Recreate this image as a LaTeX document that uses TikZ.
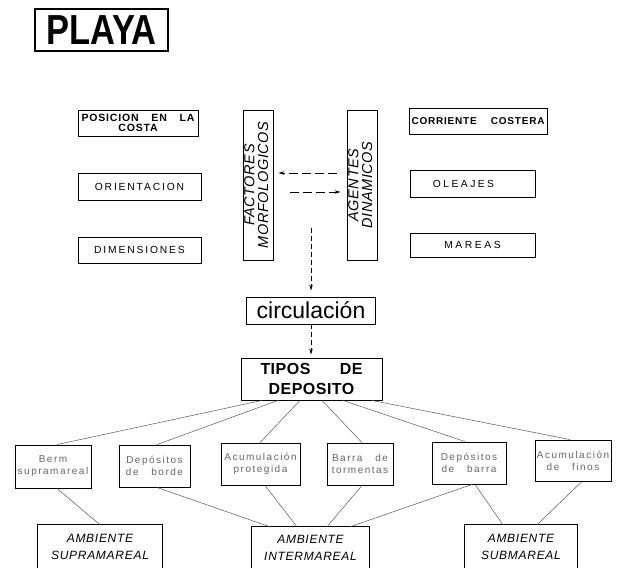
\documentclass[tikz,border=0pt]{standalone}
\usepackage{fontspec}
\setmainfont{Liberation Sans}
\usepackage{graphicx}
\usetikzlibrary{arrows.meta}
\newcommand{\lsp}[1]{\addfontfeature{LetterSpace=#1}}
\begin{document}
\begin{tikzpicture}[x=1pt,y=-1pt,
  box/.style={draw, line width=0.9pt, inner sep=1pt, align=center},
  obox/.style={inner sep=1pt, align=center},
  link/.style={line width=0.5pt, black!65},
  frame/.style={line width=0.9pt},
  darrow/.style={line width=0.7pt, dash pattern=on 9pt off 4pt, -{Stealth[length=6pt,width=3.5pt]}},
  caps/.style={font=\fontsize{10.3}{12}\selectfont\lsp{18}},
  small/.style={font=\fontsize{10}{12}\selectfont\lsp{15}, text=black!60},
  amb/.style={font=\fontsize{12}{17}\selectfont\itshape\lsp{6}},
]
\useasboundingbox[fill=white] (0,0) rectangle (618,568);

% title
\node[box, line width=1.3pt, minimum width=133, minimum height=42, inner sep=0] (playa) at (101.5,30)
  {\scalebox{0.82}[1]{\fontsize{42}{42}\selectfont\bfseries PLAYA}};

% left column
\node[box, minimum width=120, minimum height=26, font=\fontsize{10.5}{9.5}\selectfont\bfseries\lsp{8}] (pos) at (138,123)
  {\makebox[113pt]{POSICION\hfill EN\hfill LA}\\COSTA};
\node[box, caps, minimum width=123, minimum height=27] (ori) at (139.5,186.5) {ORIENTACION};
\node[box, caps, minimum width=123, minimum height=26] (dim) at (139.5,250) {DIMENSIONES};

% vertical boxes
\node[box, minimum width=30, minimum height=150, inner sep=0] (fact) at (258,185)
  {\rotatebox{90}{\fontsize{14.5}{12.5}\selectfont\itshape\lsp{4}\begin{tabular}{@{}c@{}}FACTORES\\MORFOLOGICOS\end{tabular}}};
\node[box, minimum width=30, minimum height=150, inner sep=0] (agen) at (362,185)
  {\rotatebox{90}{\fontsize{14.5}{12.5}\selectfont\itshape\lsp{4}\begin{tabular}{@{}c@{}}AGENTES\\DINAMICOS\end{tabular}}};

% right column
\node[box, minimum width=138, minimum height=26, font=\fontsize{10}{10}\selectfont\bfseries\lsp{8}] (corr) at (478,121)
  {\makebox[133pt]{CORRIENTE\hfill COSTERA}};
\node[box, minimum width=125, minimum height=27, font=\fontsize{10.3}{12}\selectfont\lsp{24}] (ole) at (472.5,183.5) {OLEAJES\hspace*{18pt}};
\node[box, minimum width=125, minimum height=24, font=\fontsize{10.3}{12}\selectfont\lsp{25}] (mar) at (472.5,245) {MAREAS};

% centre
\node[box, minimum width=129, minimum height=27, font=\fontsize{23}{23}\selectfont] (circ) at (311,310.5) {circulación};
\node[box, minimum width=141, minimum height=42, font=\fontsize{16}{20}\selectfont\bfseries\lsp{3}] (tipos) at (311.5,379)
  {\makebox[102pt]{TIPOS\hfill DE}\\DEPOSITO};

% bottom row
\node[box, small, minimum width=76, minimum height=43] (berm) at (53,466.5) {Berm\\supramareal};
\node[box, small, minimum width=71, minimum height=42] (dborde) at (154.5,466) {Depósitos\\de\ \ \ borde};
\node[box, small, minimum width=79, minimum height=42] (aprot) at (260.5,464) {Acumulación\\protegida};
\node[box, small, minimum width=66, minimum height=42] (barra) at (360,464) {Barra\ \ \ de\\tormentas};
\node[box, small, minimum width=74, minimum height=42] (dbarra) at (469,463) {Depósitos\\de\ \ \ barra};
\node[box, small, minimum width=76, minimum height=41] (afinos) at (573,460.5) {Acumulación\\de\ \ \ finos};

% ambientes (open at the bottom)
\node[obox, amb, minimum width=124, minimum height=43] (supra) at (100,546.5) {AMBIENTE\\SUPRAMAREAL};
\node[obox, amb, minimum width=117, minimum height=41] (inter) at (310.5,547.5) {AMBIENTE\\INTERMAREAL};
\node[obox, amb, minimum width=112, minimum height=43] (sub) at (521,546.5) {AMBIENTE\\SUBMAREAL};
\draw[frame] (supra.south west) |- (supra.north east) -- (supra.south east);
\draw[frame] (inter.south west) |- (inter.north east) -- (inter.south east);
\draw[frame] (sub.south west) |- (sub.north east) -- (sub.south east);

% arrows between the vertical boxes
\draw[darrow] ([xshift=-10pt,yshift=12pt]agen.west) -- ([xshift=5pt,yshift=12pt]fact.east);
\draw[darrow] ([xshift=17pt,yshift=-7pt]fact.east) -- ([xshift=-6pt,yshift=-7pt]agen.west);
\coordinate (vs) at (311,228);
\draw[darrow, dash pattern=on 5pt off 3pt, shorten >=6pt] (vs) -- (vs |- circ.north);
\draw[darrow, dash pattern=on 5pt off 3pt, shorten >=3pt] (circ.south) -- (circ.south |- tipos.north);

% fan from TIPOS DE DEPOSITO
\draw[link] ([xshift=-49.5pt]tipos.south) -- ([xshift=4pt]berm.north);
\draw[link] ([xshift=-33.5pt]tipos.south) -- ([xshift=2.5pt]dborde.north);
\draw[link] ([xshift=-11.5pt]tipos.south) -- ([xshift=-0.5pt]aprot.north);
\draw[link] ([xshift=10.5pt]tipos.south) -- ([xshift=2pt]barra.north);
\draw[link] ([xshift=31.5pt]tipos.south) -- ([xshift=-4pt]dbarra.north);
\draw[link] ([xshift=60.5pt]tipos.south) -- ([xshift=-3pt]afinos.north);

% links to the ambientes
\draw[link] ([xshift=4pt]berm.south) -- (supra.north);
\draw[link] ([xshift=2.5pt]dborde.south) -- ([xshift=-40.5pt]inter.north);
\draw[link] ([xshift=4.5pt]aprot.south) -- ([xshift=-13.5pt]inter.north);
\draw[link] ([xshift=2pt]barra.south) -- ([xshift=16.5pt]inter.north);
\draw[link] ([xshift=3pt]dbarra.south) -- ([xshift=39.5pt]inter.north);
\draw[link] ([xshift=6pt]dbarra.south) -- ([xshift=-18pt]sub.north);
\draw[link] ([xshift=9pt]afinos.south) -- ([xshift=16pt]sub.north);
\end{tikzpicture}
\end{document}
